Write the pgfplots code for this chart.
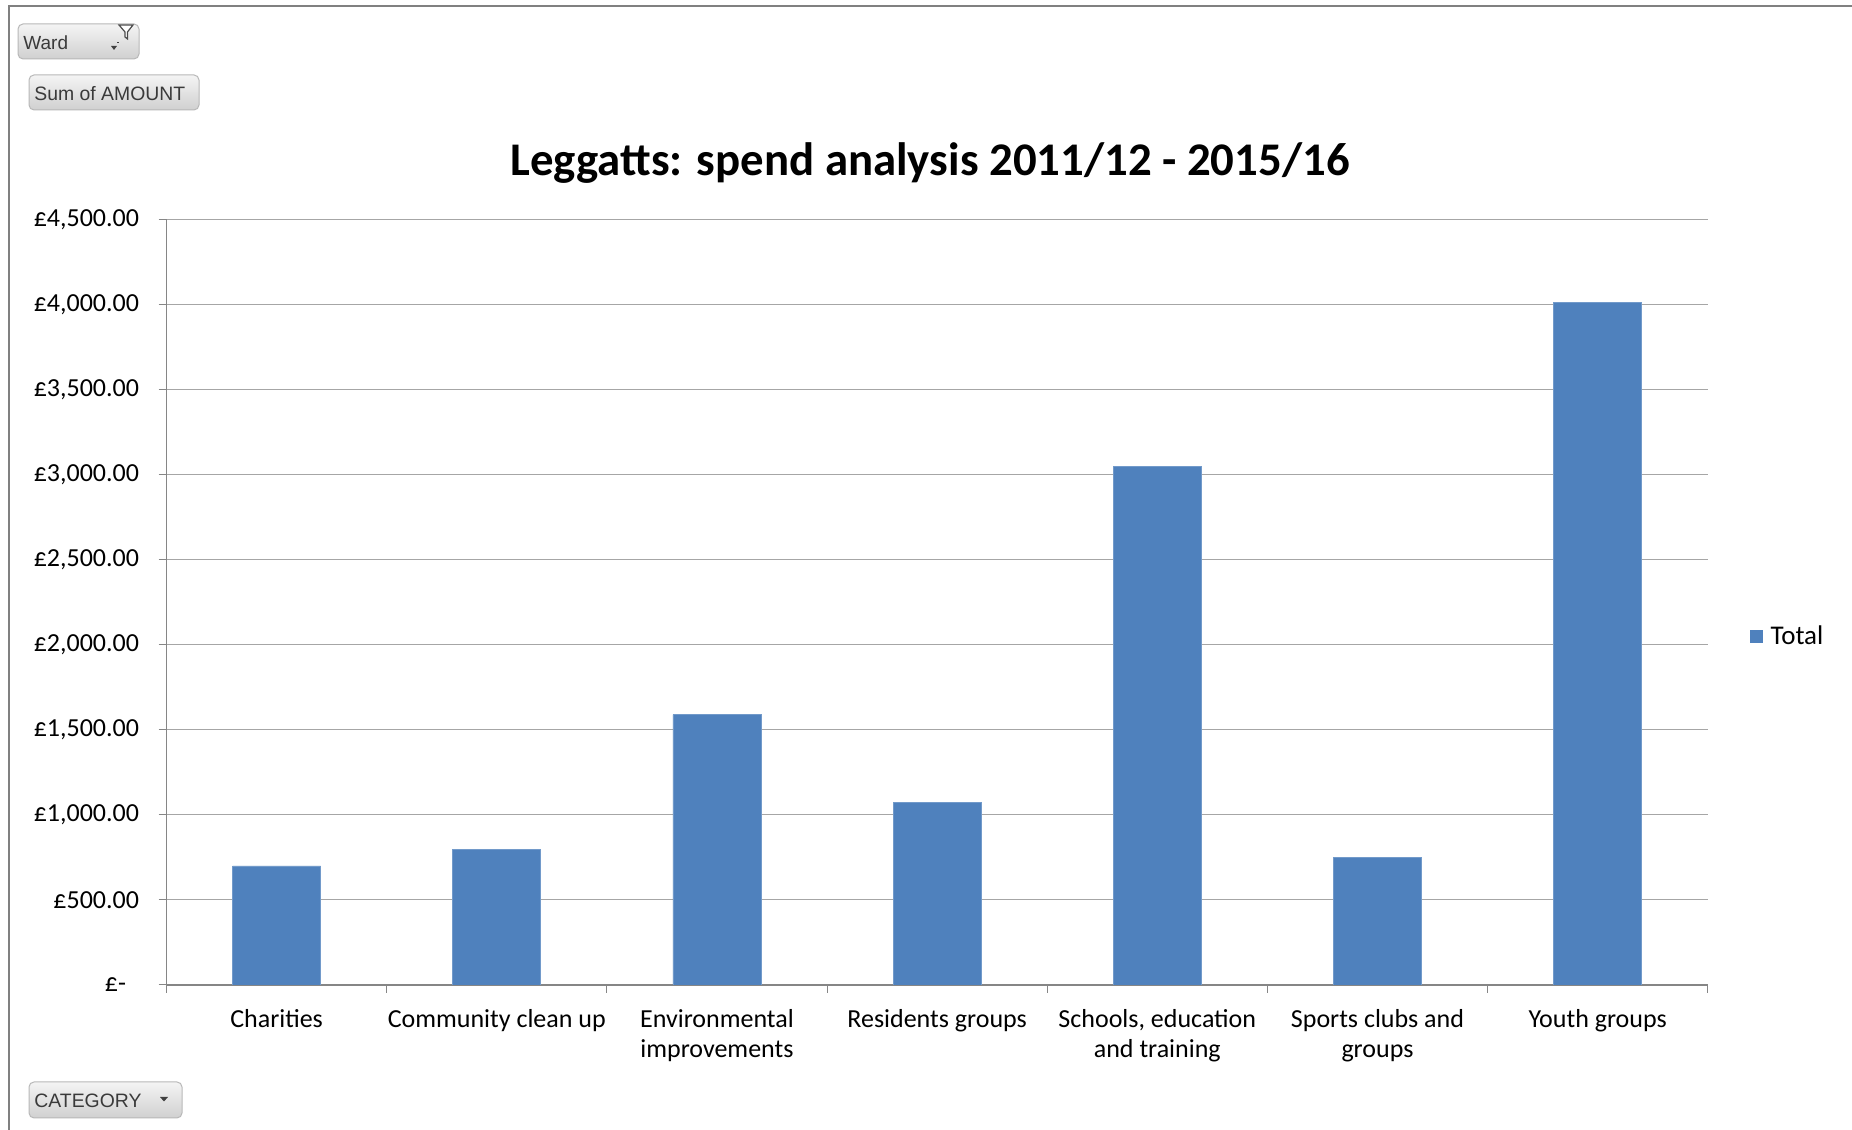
\documentclass[border=0pt]{standalone}
\usepackage{pgfplots}
\pgfplotsset{compat=1.18}
\usepackage{fontspec}
\setmainfont{Carlito}
\newfontfamily\uifont{Liberation Sans}
\definecolor{barblue}{HTML}{4F81BD}
\definecolor{gridgray}{HTML}{A6A6A6}
\definecolor{axisgray}{HTML}{868686}
\definecolor{framegray}{HTML}{808080}
\definecolor{btntop}{HTML}{F4F4F4}
\definecolor{btnbot}{HTML}{D0D0D0}
\definecolor{btnborder}{HTML}{B8B8B8}
\definecolor{btntext}{HTML}{3A3A3A}
\newcommand\btn[4]{\shadedraw[top color=btntop,bottom color=btnbot,draw=btnborder,rounded corners=2.5bp,line width=0.5bp] (#1,#2) rectangle (#3,#4);}
\begin{document}
\begin{tikzpicture}[x=0.5bp,y=0.5bp]
\useasboundingbox (0,0) rectangle (1852,1130);
\fill[white] (0,0) rectangle (1852,1130);
\draw[framegray, line width=1.1bp] (9,0) -- (9,1124) -- (1852,1124);
% Ward button
\btn{18}{1071}{139}{1106}
\node[anchor=west,inner sep=0pt,text=btntext,font=\uifont\fontsize{9.5bp}{11bp}\selectfont] at (23,1087.5) {Ward};
\fill[black!75] (111,1084) -- (117,1084) -- (114,1080) -- cycle;
\draw[black!75, line width=0.5bp] (117,1087) -- (119,1087);
\draw[black!70, fill=white, line width=0.6bp] (119,1105) -- (133,1105) -- (127.5,1098) -- (127.5,1091) -- (125,1093) -- (125,1098) -- cycle;
% Sum of AMOUNT button
\btn{29}{1020}{199}{1055}
\node[anchor=west,inner sep=0pt,text=btntext,font=\uifont\fontsize{9.7bp}{11bp}\selectfont] at (34,1036.5) {Sum of AMOUNT};
% CATEGORY button
\btn{29}{12}{182}{48}
\node[anchor=west,inner sep=0pt,text=btntext,font=\uifont\fontsize{9.7bp}{11bp}\selectfont] at (34,29) {CATEGORY};
\fill[black!75] (160,33) -- (168,33) -- (164,28.5) -- cycle;
% title
\node[font=\fontsize{23.4bp}{27bp}\selectfont\bfseries] at (930,966.5) {Leggatts: spend analysis 2011/12 - 2015/16};
\begin{axis}[
  at={(83.25bp,72.5bp)}, anchor=south west,
  width=770.6bp, height=382.7bp, scale only axis,
  xmin=-0.5, xmax=6.5, ymin=0, ymax=4500,
  axis lines*=left,
  axis line style={axisgray, line width=0.75bp},
  ymajorgrids, grid style={gridgray, line width=0.5bp},
  xtick={0,...,6},
  xticklabels={Charities, Community clean up, {Environmental\\improvements}, Residents groups, {Schools, education\\and training}, {Sports clubs and\\groups}, Youth groups},
  ytick={0,500,...,4500},
  yticklabels={{£-\rule{6.5bp}{0pt}}, {£500.00}, {£1,000.00}, {£1,500.00}, {£2,000.00}, {£2,500.00}, {£3,000.00}, {£3,500.00}, {£4,000.00}, {£4,500.00}},
  minor xtick={-0.5,0.5,...,6.5}, minor ytick={0,500,...,4500},
  major tick length=0pt, minor tick length=4bp, tick align=outside,
  minor tick style={axisgray, line width=0.5bp},
  ticklabel style={font=\fontsize{13bp}{15.4bp}\selectfont, text=black},
  xticklabel style={align=center, yshift=-8.5bp},
  yticklabel style={xshift=-10.2bp},
  ybar, bar width=0.4,
  legend style={at={(1.027,0.455)}, anchor=west, draw=none, fill=none, inner sep=0pt, font=\fontsize{13.5bp}{15bp}\selectfont},
  legend image code/.code={\fill[barblue] (0bp,-3bp) rectangle (6bp,3bp); \path (8bp,0bp);},
]
\addplot[fill=barblue, draw=barblue!80!white] coordinates {(0,700) (1,795) (2,1590) (3,1075) (4,3050) (5,750) (6,4015)};
\addlegendentry{Total}
\end{axis}
\end{tikzpicture}
\end{document}
